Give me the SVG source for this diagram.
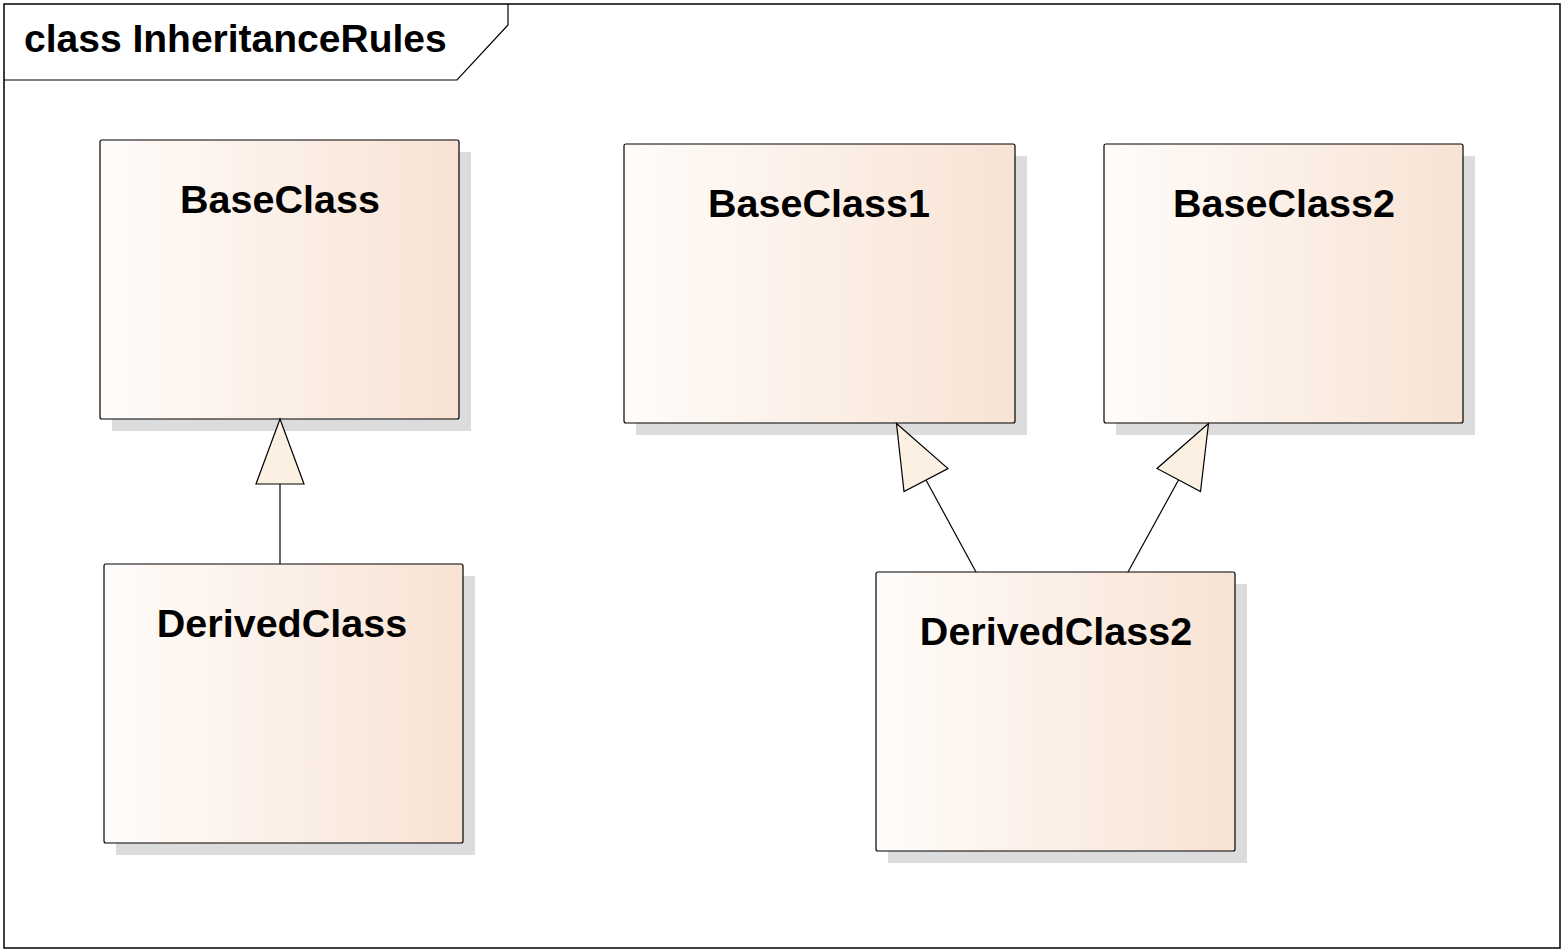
<svg xmlns="http://www.w3.org/2000/svg" width="1564" height="952" viewBox="0 0 1564 952">
<style>
.frame{fill:#FFFFFF;stroke:#000000;stroke-width:1.5}
.tab{fill:none;stroke:#000000;stroke-width:1.2}
.title{font-family:"Liberation Sans",Arial,sans-serif;font-weight:bold;font-size:39px;fill:#000000}
.box{fill:url(#g);stroke:#000000;stroke-width:1.2}
.shadow{fill:#DCDCDC}
.name{font-family:"Liberation Sans",Arial,sans-serif;font-weight:bold;font-size:39.5px;fill:#000000;text-anchor:middle}
.edge{fill:none;stroke:#000000;stroke-width:1.2}
.head{fill:#FBF0E2;stroke:#000000;stroke-width:1.2;stroke-linejoin:miter}
</style>
<defs>
<linearGradient id="g" x1="0" y1="0" x2="1" y2="0">
<stop offset="0" stop-color="#FFFCFA"/>
<stop offset="1" stop-color="#F8E3D4"/>
</linearGradient>
</defs>
<rect width="1564" height="952" fill="#FFFFFF"/>
<g id="frame">
<rect class="frame" x="4" y="4" width="1556" height="944"/>
<path class="tab" d="M4,80 L457,80 L508,25 L508,4"/>
<text class="title" x="24" y="52">class InheritanceRules</text>
</g>
<g id="BaseClass">
<rect class="shadow" x="112" y="152" width="359" height="279"/>
<rect class="box" x="100" y="140" width="359" height="279" rx="2"/>
<text class="name" x="280" y="213">BaseClass</text>
</g>
<g id="DerivedClass">
<rect class="shadow" x="116" y="576" width="359" height="279"/>
<rect class="box" x="104" y="564" width="359" height="279" rx="2"/>
<text class="name" x="282" y="637">DerivedClass</text>
</g>
<g id="BaseClass1">
<rect class="shadow" x="636" y="156" width="391" height="279"/>
<rect class="box" x="624" y="144" width="391" height="279" rx="2"/>
<text class="name" x="819" y="217">BaseClass1</text>
</g>
<g id="BaseClass2">
<rect class="shadow" x="1116" y="156" width="359" height="279"/>
<rect class="box" x="1104" y="144" width="359" height="279" rx="2"/>
<text class="name" x="1284" y="217">BaseClass2</text>
</g>
<g id="DerivedClass2">
<rect class="shadow" x="888" y="584" width="359" height="279"/>
<rect class="box" x="876" y="572" width="359" height="279" rx="2"/>
<text class="name" x="1056" y="645">DerivedClass2</text>
</g>
<g id="connectors">
<line class="edge" x1="280" y1="484" x2="280" y2="564"/>
<polygon class="head" points="280,419 304,484 256,484"/>
<line class="edge" x1="926" y1="480" x2="976" y2="572"/>
<polygon class="head" points="896.5,423.5 948,468.5 904,491.5"/>
<line class="edge" x1="1178.5" y1="480" x2="1128" y2="572"/>
<polygon class="head" points="1208.5,423.5 1200.5,491.5 1157,468.5"/>
</g>
</svg>
